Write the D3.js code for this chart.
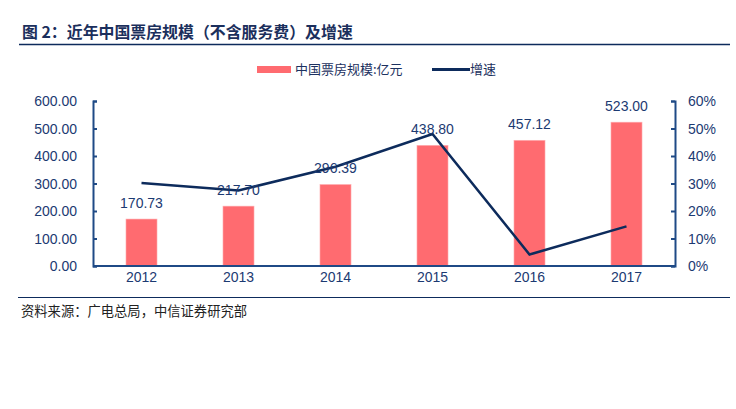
<!DOCTYPE html>
<html>
<head>
<meta charset="utf-8">
<script src="https://cdn.jsdelivr.net/npm/d3@7"></script>
<style>
  body { margin: 0; background: #fff; }
  svg { display: block; font-family: "Liberation Sans", Arial, "Noto Sans CJK SC", sans-serif; }
  .cjk { font-family: "Noto Sans CJK SC", "Liberation Sans", sans-serif; }
</style>
</head>
<body>
<div id="chart"></div>
<script>
const years = ["2012", "2013", "2014", "2015", "2016", "2017"]
const boxOffice = [170.73, 217.70, 296.39, 438.80, 457.12, 523.00]
const growth = [30.2, 27.5, 36.1, 48.0, 4.2, 14.4]
const leftTicks = [0, 100, 200, 300, 400, 500, 600]
const rightTicks = [0, 10, 20, 30, 40, 50, 60]

const width = 736
const height = 409
const margin = {top: 101, right: 61, bottom: 143, left: 93}

const barColor = "#ff6b70"
const lineColor = "#0d2b5c"
const axisColor = "#1f4a86"
const textColor = "#1c3a72"

const svg = d3.select("#chart")
    .append("svg")
    .attr("width", width)
    .attr("height", height)
    .attr("viewBox", [0, 0, width, height])

const x = d3.scaleBand()
    .domain(years)
    .range([margin.left, width - margin.right])

const y = d3.scaleLinear()
    .domain([0, 600])
    .range([height - margin.bottom, margin.top])

const y2 = d3.scaleLinear()
    .domain([0, 60])
    .range([height - margin.bottom, margin.top])

const barW = x.bandwidth() * 0.32

// title + rule
svg.append("text")
    .attr("class", "cjk")
    .attr("x", 22)
    .attr("y", 38)
    .attr("fill", "#1b2f5c")
    .style("font-size", "15.9px")
    .style("font-weight", "bold")
    .text("图 2：近年中国票房规模（不含服务费）及增速")

svg.append("line")
    .attr("x1", 19).attr("x2", 730)
    .attr("y1", 44.5).attr("y2", 44.5)
    .attr("stroke", "#0d2b5c")
    .attr("stroke-width", 1.5)

// legend
const legend = svg.append("g")
legend.append("rect")
    .attr("x", 257).attr("y", 66)
    .attr("width", 34).attr("height", 7)
    .attr("fill", barColor)
legend.append("text")
    .attr("class", "cjk")
    .attr("x", 295).attr("y", 74)
    .attr("fill", "#1c3160")
    .style("font-size", "13px")
    .text("中国票房规模:亿元")
legend.append("line")
    .attr("x1", 432).attr("x2", 470)
    .attr("y1", 69.5).attr("y2", 69.5)
    .attr("stroke", lineColor)
    .attr("stroke-width", 3)
legend.append("text")
    .attr("class", "cjk")
    .attr("x", 470).attr("y", 74)
    .attr("fill", "#1c3160")
    .style("font-size", "13px")
    .text("增速")

// bars
svg.append("g")
    .selectAll("rect")
    .data(boxOffice)
    .join("rect")
    .attr("x", (d, i) => x(years[i]) + x.bandwidth() / 2 - barW / 2)
    .attr("y", d => y(d))
    .attr("width", barW)
    .attr("height", d => y(0) - y(d))
    .attr("fill", barColor)
    .attr("stroke", "#ffb0b3")
    .attr("stroke-width", 0.6)

// axes
const axisL = svg.append("g")
    .attr("transform", `translate(${margin.left},0)`)
    .call(d3.axisRight(y).tickValues(leftTicks).tickSize(4).tickFormat(""))
axisL.selectAll("path, line").attr("stroke", axisColor).attr("stroke-width", 2)

const axisR = svg.append("g")
    .attr("transform", `translate(${width - margin.right},0)`)
    .call(d3.axisLeft(y2).tickValues(rightTicks).tickSize(4).tickFormat(""))
axisR.selectAll("path, line").attr("stroke", axisColor).attr("stroke-width", 2)

svg.append("line")
    .attr("x1", margin.left).attr("x2", width - margin.right)
    .attr("y1", y(0)).attr("y2", y(0))
    .attr("stroke", axisColor)
    .attr("stroke-width", 2)

// tick labels
svg.append("g")
    .selectAll("text")
    .data(leftTicks)
    .join("text")
    .attr("x", 77)
    .attr("y", d => y(d) + 5)
    .attr("text-anchor", "end")
    .attr("fill", textColor)
    .style("font-size", "14px")
    .text(d => d3.format(".2f")(d))

svg.append("g")
    .selectAll("text")
    .data(rightTicks)
    .join("text")
    .attr("x", 688)
    .attr("y", d => y2(d) + 5)
    .attr("fill", textColor)
    .style("font-size", "14px")
    .text(d => d + "%")

svg.append("g")
    .selectAll("text")
    .data(years)
    .join("text")
    .attr("x", d => x(d) + x.bandwidth() / 2)
    .attr("y", y(0) + 16)
    .attr("text-anchor", "middle")
    .attr("fill", textColor)
    .style("font-size", "14px")
    .text(d => d)

// growth line
const line = d3.line()
    .x((d, i) => x(years[i]) + x.bandwidth() / 2)
    .y(d => y2(d))

svg.append("path")
    .datum(growth)
    .attr("d", line)
    .attr("fill", "none")
    .attr("stroke", lineColor)
    .attr("stroke-width", 2.5)

// bar value labels
svg.append("g")
    .selectAll("text")
    .data(boxOffice)
    .join("text")
    .attr("x", (d, i) => x(years[i]) + x.bandwidth() / 2)
    .attr("y", d => y(d) - 11)
    .attr("text-anchor", "middle")
    .attr("fill", textColor)
    .style("font-size", "14px")
    .text(d => d3.format(".2f")(d))

// source
svg.append("line")
    .attr("x1", 18).attr("x2", 730)
    .attr("y1", 297.5).attr("y2", 297.5)
    .attr("stroke", "#0d2b5c")
    .attr("stroke-width", 1.2)

svg.append("text")
    .attr("class", "cjk")
    .attr("x", 21)
    .attr("y", 316)
    .attr("fill", "#222")
    .style("font-size", "13.3px")
    .text("资料来源：广电总局，中信证券研究部")
</script>
</body>
</html>
